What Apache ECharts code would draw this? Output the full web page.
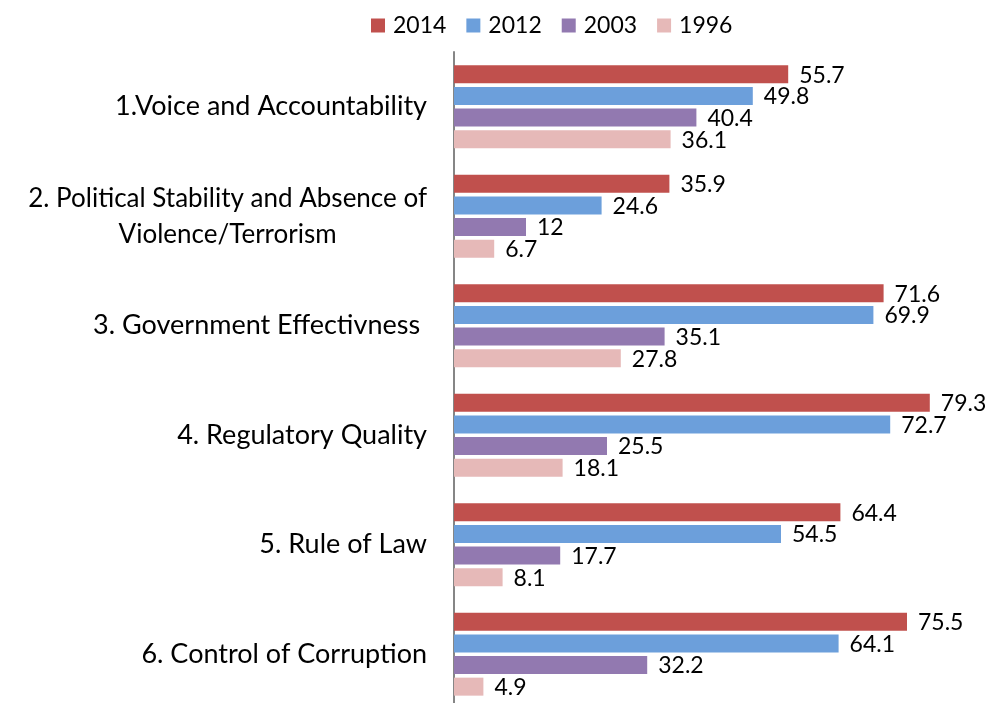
<!DOCTYPE html>
<html>
<head>
<meta charset="utf-8">
<script src="https://cdn.jsdelivr.net/npm/echarts@6/dist/echarts.min.js"></script>
<style>
  html, body { margin: 0; padding: 0; background: #fff; }
  #charts { width: 995px; height: 703px; }
</style>
</head>
<body>
<div id="charts"></div>
<script>
var categories = [
  '1.Voice and Accountability',
  '2. Political Stability and Absence of\nViolence/Terrorism',
  '3. Government Effectivness ',
  '4. Regulatory Quality',
  '5. Rule of Law',
  '6. Control of Corruption'
];
var years = ['2014', '2012', '2003', '1996'];
var v2014 = [55.7, 35.9, 71.6, 79.3, 64.4, 75.5];
var v2012 = [49.8, 24.6, 69.9, 72.7, 54.5, 64.1];
var v2003 = [40.4, 12, 35.1, 25.5, 17.7, 32.2];
var v1996 = [36.1, 6.7, 27.8, 18.1, 8.1, 4.9];
var colors = ['#C0504D', '#6C9FDB', '#9279B0', '#E6B9B8'];

var font = 'Lato';
var chartDom = document.getElementById('charts');
var myChart = echarts.init(chartDom);

function makeSeries(name, data, color) {
  return {
    name: name,
    type: 'bar',
    data: data,
    barWidth: 18,
    barGap: '20%',
    itemStyle: { color: color },
    label: {
      show: true,
      position: 'right',
      distance: 11,
      offset: [0, 1],
      color: '#000',
      fontFamily: font,
      fontSize: 23
    }
  };
}

var option = {
  animation: false,
  color: colors,
  legend: {
    top: 9,
    left: 366,
    itemWidth: 14,
    itemHeight: 14,
    itemGap: 20,
    icon: 'rect',
    textStyle: { fontFamily: font, fontSize: 23, color: '#000', padding: [0, 0, 0, 3] },
    data: years
  },
  grid: { left: 454, right: 1, top: 52, bottom: -6, outerBoundsMode: 'none' },
  xAxis: {
    type: 'value',
    min: 0,
    max: 90,
    show: false
  },
  yAxis: {
    type: 'category',
    inverse: true,
    data: categories,
    axisLine: { show: true, lineStyle: { color: '#868686', width: 2 } },
    axisTick: { show: false },
    axisLabel: {
      margin: 27,
      color: '#000',
      fontFamily: font,
      fontSize: 27,
      formatter: function (v) {
        if (v.indexOf('\n') >= 0) {
          var parts = v.split('\n');
          return '{a|' + parts[0] + '}\n{b|' + parts[1] + '}';
        }
        return v;
      },
      rich: {
        a: { align: 'center', fontFamily: font, fontSize: 26, color: '#000', lineHeight: 36 },
        b: { align: 'center', fontFamily: font, fontSize: 26, color: '#000', lineHeight: 36 }
      }
    }
  },
  series: [
    makeSeries(years[0], v2014, colors[0]),
    makeSeries(years[1], v2012, colors[1]),
    makeSeries(years[2], v2003, colors[2]),
    makeSeries(years[3], v1996, colors[3])
  ]
};
option && myChart.setOption(option);
</script>
</body>
</html>
